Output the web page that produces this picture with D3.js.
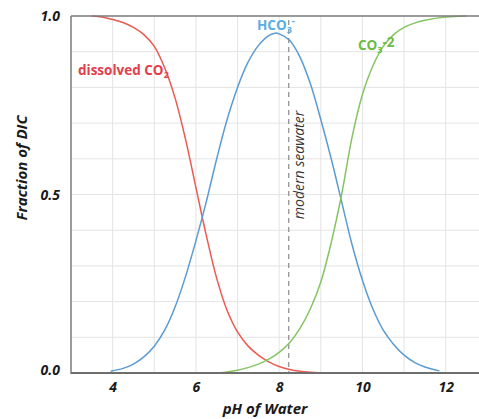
<!DOCTYPE html>
<html><head><meta charset="utf-8">
<script src="https://cdn.jsdelivr.net/npm/d3@7"></script>
<style>
html,body{margin:0;padding:0;background:#fff;}
svg{display:block;font-family:"Open Sans","DejaVu Sans",sans-serif;}
</style></head>
<body><svg id="c" width="479" height="419"></svg>
<script>
// ---- data ----
const xTicks = [4, 6, 8, 10, 12];
const yTicks = [0, 0.5, 1];
const yTickLabels = ["0.0", "0.5", "1.0"];
const seawaterPH = 8.23;

const co2PH  = [3.5,3.75,4,4.25,4.5,4.75,5,5.25,5.5,5.75,6,6.25,6.5,6.75,7,7.25,7.5,7.75,8,8.25,8.5,8.75,9];
const co2Val = [1,0.997,0.99,0.982,0.968,0.948,0.915,0.855,0.77,0.655,0.52,0.385,0.265,0.175,0.115,0.076,0.05,0.031,0.018,0.01,0.005,0.002,0];

const hco3PH  = [3.95,4.25,4.5,4.75,5,5.25,5.5,5.75,6,6.25,6.5,6.75,7,7.25,7.5,7.75,7.9,8,8.25,8.5,8.75,9,9.25,9.5,9.75,10,10.25,10.5,10.75,11,11.25,11.5,11.85];
const hco3Val = [0.005,0.013,0.025,0.045,0.075,0.12,0.185,0.27,0.37,0.48,0.6,0.71,0.8,0.87,0.917,0.945,0.952,0.95,0.932,0.885,0.81,0.71,0.6,0.48,0.36,0.26,0.18,0.12,0.08,0.05,0.03,0.017,0.006];

const co3PH  = [6.55,6.75,7,7.25,7.5,7.75,8,8.25,8.5,8.75,9,9.25,9.5,9.75,10,10.25,10.5,10.75,11,11.25,11.5,12,12.5];
const co3Val = [0,0.003,0.008,0.015,0.025,0.039,0.058,0.085,0.125,0.18,0.255,0.365,0.5,0.66,0.78,0.86,0.915,0.948,0.968,0.98,0.988,0.997,1];

// ---- drawing ----
const svg = d3.select("#c");
const L = 71, R = 479, T = 16, B = 373;
const x = d3.scaleLinear().domain([3, 12.8]).range([L, R]);
const y = d3.scaleLinear().domain([0, 1]).range([B, T]);

const g = svg.append("g");
// grid
g.selectAll(".vg").data(d3.range(4, 13)).enter().append("line")
  .attr("x1", d => x(d)).attr("x2", d => x(d)).attr("y1", T).attr("y2", B)
  .attr("stroke", "#e4e4e4").attr("stroke-width", 1);
g.selectAll(".hg").data(d3.range(1, 10).map(d => d / 10)).enter().append("line")
  .attr("x1", L).attr("x2", R).attr("y1", d => y(d)).attr("y2", d => y(d))
  .attr("stroke", "#e4e4e4").attr("stroke-width", 1);

// dashed seawater line
g.append("line").attr("x1", x(seawaterPH)).attr("x2", x(seawaterPH))
  .attr("y1", 20).attr("y2", B).attr("stroke", "#8a8a8a").attr("stroke-width", 1.2)
  .attr("stroke-dasharray", "5,4");

// curves
const line = d3.line().x(d => x(d[0])).y(d => y(d[1])).curve(d3.curveCatmullRom.alpha(0.5));
function series(px, vals, color) {
  g.append("path").datum(px.map((p, i) => [p, vals[i]]))
    .attr("d", line).attr("fill", "none").attr("stroke", color).attr("stroke-width", 1.5);
}
series(co2PH, co2Val, "#ec5a50");
series(hco3PH, hco3Val, "#5b9bd3");
series(co3PH, co3Val, "#86c463");

// frame
g.append("line").attr("x1", L).attr("x2", R).attr("y1", T).attr("y2", T)
  .attr("stroke", "#7a7a7a").attr("stroke-width", 1.5);
g.append("line").attr("x1", L).attr("x2", L).attr("y1", T).attr("y2", B + 1)
  .attr("stroke", "#7a7a7a").attr("stroke-width", 1.5);
g.append("line").attr("x1", L).attr("x2", R).attr("y1", B).attr("y2", B)
  .attr("stroke", "#6e6e6e").attr("stroke-width", 2);

// axes tick labels
const xAxis = d3.axisBottom(x).tickValues(xTicks).tickSize(0).tickPadding(0);
const xa = svg.append("g").attr("transform", `translate(0,${B})`).call(xAxis);
xa.select(".domain").remove();
xa.selectAll("text").attr("dy", null).attr("y", 19)
  .attr("font-size", 14).attr("font-weight", "bold").attr("font-style", "italic")
  .attr("fill", "#1a1a1a").attr("font-family", "Open Sans");

const yAxis = d3.axisLeft(y).tickValues(yTicks).tickFormat((d, i) => yTickLabels[i]).tickSize(0).tickPadding(0);
const ya = svg.append("g").attr("transform", `translate(60,0)`).call(yAxis);
ya.select(".domain").remove();
ya.selectAll("text").attr("dy", "0.35em")
  .attr("font-size", 14).attr("font-weight", "bold").attr("font-style", "italic")
  .attr("fill", "#1a1a1a").attr("font-family", "Open Sans");
ya.selectAll(".tick").filter(d => d === 0).select("text").attr("dy", "0.1em");

// axis titles
svg.append("text").attr("x", 265).attr("y", 414).attr("text-anchor", "middle")
  .attr("font-size", 15).attr("font-weight", "bold").attr("font-style", "italic")
  .attr("fill", "#1a1a1a").text("pH of Water");
svg.append("text").attr("transform", "translate(27,168) rotate(-90)").attr("text-anchor", "middle")
  .attr("font-size", 15).attr("font-weight", "bold").attr("font-style", "italic")
  .attr("fill", "#1a1a1a").text("Fraction of DIC");

// series labels
const t1 = svg.append("text").attr("x", 78).attr("y", 75).attr("font-size", 13.5)
  .attr("font-weight", "bold").attr("fill", "#e2404a");
t1.append("tspan").text("dissolved CO");
t1.append("tspan").attr("font-size", 9).attr("dy", 3).text("2");

const t2 = svg.append("text").attr("x", 257).attr("y", 30).attr("font-size", 13.5)
  .attr("font-weight", "bold").attr("fill", "#5aaee0");
t2.append("tspan").text("HCO");
t2.append("tspan").attr("font-size", 9).attr("dy", 3).text("3");
t2.append("tspan").attr("font-size", 10).attr("dy", -9).text("-");

const t3 = svg.append("text").attr("x", 358).attr("y", 50).attr("font-size", 13.5)
  .attr("font-weight", "bold").attr("fill", "#6dbb45");
t3.append("tspan").text("CO");
t3.append("tspan").attr("font-size", 9).attr("dy", 3).text("3");
t3.append("tspan").attr("dy", -6).text("-2");

svg.append("text").attr("transform", "translate(304,165) rotate(-90)").attr("text-anchor", "middle")
  .attr("font-size", 14).attr("font-style", "italic").attr("fill", "#333")
  .text("modern seawater");
</script></body></html>
